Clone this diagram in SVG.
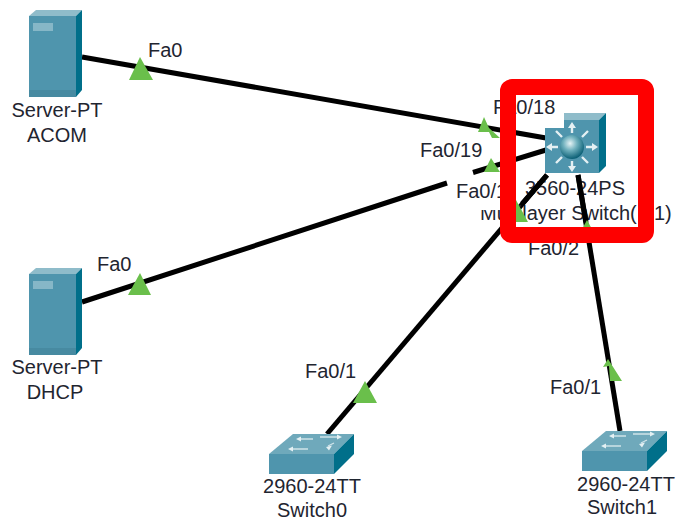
<svg xmlns="http://www.w3.org/2000/svg" width="677" height="519" viewBox="0 0 677 519">
<style>
text{font-family:"Liberation Sans",Arial,sans-serif;font-size:20px;fill:#1f2530}
.m{text-anchor:middle}
.f{fill:#4f95ad}.t{fill:#8fbcca}.s{fill:#006f8a}
.sw{fill:#6fa9bb}
.link{fill:none;stroke:#000;stroke-width:5}
.tri{fill:#6abf4b}
.ar{stroke:#e4f0f3;stroke-width:2.400;fill:none}
.ar2{stroke:#cfe3e9;stroke-width:1.300;fill:none}
.arh{fill:#e4f0f3}
</style>
<defs>
<radialGradient id="ball" cx="0.42" cy="0.35" r="0.65"><stop offset="0" stop-color="#e6f3f5"/><stop offset="0.45" stop-color="#6fb0bd"/><stop offset="1" stop-color="#0b5f75"/></radialGradient>
<g id="server">
<path class="t" d="M29 16L36 10H82L76 16Z"/>
<path class="s" d="M76 16L82 10V90L76 97Z"/>
<rect class="f" x="29" y="16" width="47" height="81"/>
<rect x="29" y="90" width="47" height="7" fill="#478aa1"/>
<rect x="33" y="23" width="20" height="8" fill="#86b7c7"/>
</g>
<g id="l2">
<path class="sw" d="M269 454L293 434H354L334 454Z"/>
<path class="f" d="M269 454H334V474H269Z"/>
<path class="s" d="M334 454L354 434V454L334 474Z"/>
<path class="ar2" d="M298 439H313M320 437H338M290 449H308M328 446L334 443"/>
<path class="arh" d="M296 439l5-2.500v5ZM342 437l-5-2.500v5ZM288 449l5-2.500v5ZM326 447l6-1.500-3 5Z"/>
</g>
</defs>

<g id="connectors">
<path class="link" d="M82 57L546 138"/>
<path class="link" d="M82 302L447 183M473 172.500L546 150"/>
<path class="link" d="M327 434L547 175"/>
<path class="link" d="M620 431L578 175"/>
</g>

<g id="server-acom">
<use href="#server"/>
<text class="m" x="57" y="117">Server-PT</text>
<text class="m" x="57" y="142">ACOM</text>
</g>
<g id="server-dhcp">
<use href="#server" y="258"/>
<text class="m" x="57" y="374">Server-PT</text>
<text class="m" x="55" y="399">DHCP</text>
</g>
<g id="switch0">
<use href="#l2"/>
<text class="m" x="312" y="493">2960-24TT</text>
<text class="m" x="312" y="517">Switch0</text>
</g>
<g id="switch1">
<use href="#l2" x="313" y="-3"/>
<text class="m" x="626" y="491">2960-24TT</text>
<text class="m" x="622" y="514">Switch1</text>
</g>
<g id="multilayer-switch">
<text x="480" y="220">Multilayer Switch(<tspan x="654">1)</tspan></text>
<rect x="476" y="199" width="40" height="11" fill="#fff"/>
<text class="m" x="575" y="195">3560-24PS</text>
<path class="link" d="M547 175L522 204"/>
<path class="link" d="M578 175L586 222"/>
<path class="t" d="M564 120V113H606L599 120Z"/>
<path class="s" d="M599 120L606 113V166L599 173Z"/>
<path class="f" d="M564 120H599V173H545V128H564Z" fill="#4a8fa6"/>
<circle cx="572" cy="147" r="12" fill="url(#ball)"/>
<path class="ar" d="M572 133V125M572 161V169M558 147H549M586 147H595M562 137L556 131M582 137L588 131M562 157L556 163M582 157L588 163"/>
<path class="arh" d="M572 122l-4 6h8ZM572 172l-4-6h8ZM546 147l6-4v8ZM598 147l-6-4v8Z"/>
</g>

<g id="port-markers">
<path class="tri" d="M140 57L153 80H129Z"/>
<path class="tri" d="M140 273L151 295H128Z"/>
<path class="tri" d="M365 381L377 403H353Z"/>
<path class="tri" d="M608 359L622 381H610L609 366L603 367Z"/>
<path class="tri" d="M484 117L489 128L500 138H492L489 132H478Z"/>
<path class="tri" d="M491 158L500 172H484Z"/>
<path class="tri" d="M516 200L528 222H504Z"/>
<path class="tri" d="M587 220L599 242H575Z"/>
</g>

<g id="port-labels">
<text x="148" y="57">Fa0</text>
<text x="97" y="271">Fa0</text>
<text x="305" y="378">Fa0/1</text>
<text x="550" y="394">Fa0/1</text>
<text x="528" y="255">Fa0/2</text>
<text x="493" y="114">Fa0/18</text>
<text x="420" y="157">Fa0/19</text>
<text x="456" y="198">Fa0/1</text>
</g>

<rect id="highlight" x="508" y="87" width="138" height="148" rx="4" fill="none" stroke="#fe0000" stroke-width="16"/>
</svg>
